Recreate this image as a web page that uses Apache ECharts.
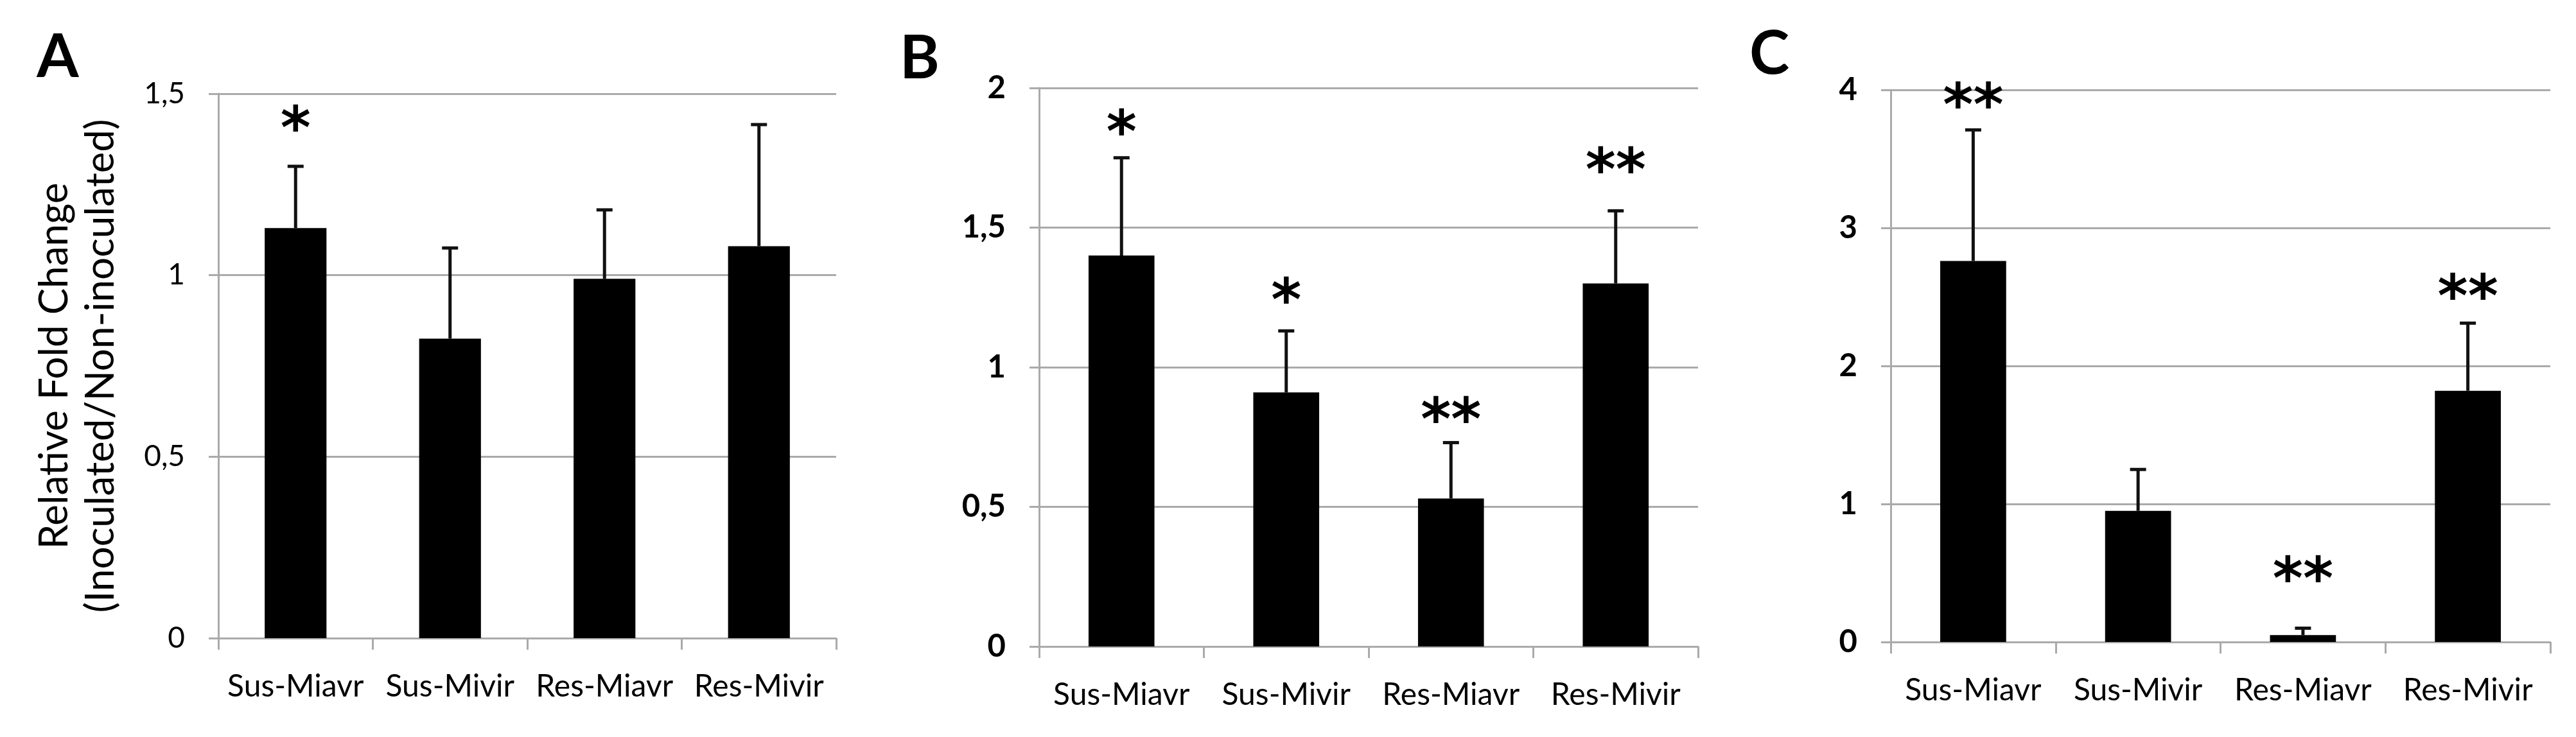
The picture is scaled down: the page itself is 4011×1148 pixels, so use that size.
<!DOCTYPE html>
<html>
<head>
<meta charset="utf-8">
<script src="https://cdn.jsdelivr.net/npm/echarts@6/dist/echarts.min.js"></script>
<style>
html,body{margin:0;padding:0;background:#fff;}
#chart{width:4011px;height:1148px;}
</style>
</head>
<body>
<div id="chart"></div>
<script>
// ---- data ----
const categories = ['Sus-Miavr', 'Sus-Mivir', 'Res-Miavr', 'Res-Mivir'];
const panelLabels = ['A', 'B', 'C'];

const valuesA = [1.13, 0.825, 0.99, 1.08];
const errorTopA = [1.30, 1.075, 1.18, 1.415];
const signifA = ['*', '', '', ''];
const signifPosA = [1.431, null, null, null];

const valuesB = [1.40, 0.91, 0.53, 1.30];
const errorTopB = [1.75, 1.13, 0.73, 1.56];
const signifB = ['*', '*', '**', '**'];
const signifPosB = [1.876, 1.275, 0.847, 1.742];

const valuesC = [2.76, 0.95, 0.05, 1.82];
const errorTopC = [3.71, 1.25, 0.10, 2.31];
const signifC = ['**', '', '**', '**'];
const signifPosC = [3.958, null, 0.526, 2.572];

const yTicksA = ['0', '0,5', '1', '1,5'];
const yTicksB = ['0', '0,5', '1', '1,5', '2'];
const yTicksC = ['0', '1', '2', '3', '4'];

const yTitle = 'Relative Fold Change\n(Inoculated/Non-inoculated)';

// ---- styles ----
const GRAY = '#aaaaaa';
const FONT = 'Lato';
const panels = [
  {values: valuesA, err: errorTopA, sig: signifA, sigPos: signifPosA, ticks: yTicksA, max: 1.5, interval: 0.5,
   grid: {left: 340, top: 146, width: 962, height: 848}, tickBold: 'normal', tickSize: 46, letter: [90, 90]},
  {values: valuesB, err: errorTopB, sig: signifB, sigPos: signifPosB, ticks: yTicksB, max: 2, interval: 0.5,
   grid: {left: 1618, top: 137, width: 1026, height: 870}, tickBold: 'bold', tickSize: 49, letter: [1432, 92]},
  {values: valuesC, err: errorTopC, sig: signifC, sigPos: signifPosC, ticks: yTicksC, max: 4, interval: 1,
   grid: {left: 2944, top: 140, width: 1027, height: 860}, tickBold: 'bold', tickSize: 49, letter: [2755, 85]}
];

const grids = [], xAxes = [], yAxes = [], series = [], graphics = [];
panels.forEach((p, k) => {
  grids.push(Object.assign({containLabel: false}, p.grid));
  xAxes.push({
    type: 'category', gridIndex: k, data: categories, boundaryGap: true,
    axisLine: {show: true, lineStyle: {color: GRAY, width: 3}},
    axisTick: {show: true, interval: 0, length: 18, lineStyle: {color: GRAY, width: 3}},
    axisLabel: {interval: 0, margin: 52, fontSize: 48, fontFamily: FONT, color: '#000'}
  });
  const ticks = p.ticks;
  const yAxis = {
    type: 'value', gridIndex: k, min: 0, max: p.max, interval: p.interval,
    axisLine: {show: true, lineStyle: {color: GRAY, width: 3}},
    axisTick: {show: true, length: 15, lineStyle: {color: GRAY, width: 3}},
    splitLine: {show: true, lineStyle: {color: GRAY, width: 3}},
    axisLabel: {margin: 52, fontSize: p.tickSize, fontFamily: FONT, fontWeight: p.tickBold, color: '#000',
      formatter: (v, i) => ticks[i]}
  };
  if (k === 0) {
    Object.assign(yAxis, {
      name: yTitle, nameLocation: 'middle', nameRotate: 90, nameGap: 147,
      nameTextStyle: {fontSize: 62, lineHeight: 72, fontFamily: FONT, color: '#000', align: 'center'}
    });
  }
  yAxes.push(yAxis);

  series.push({
    type: 'bar', xAxisIndex: k, yAxisIndex: k, data: p.values, barWidth: '40%',
    itemStyle: {color: '#000'}, silent: true
  });
  const errData = p.values.map((v, i) => [i, v, p.err[i]]);
  series.push({
    type: 'custom', xAxisIndex: k, yAxisIndex: k, data: errData, z: 5, silent: true,
    renderItem: (params, api) => {
      const x = api.value(0);
      const a = api.coord([x, api.value(1)]);
      const b = api.coord([x, api.value(2)]);
      const st = {stroke: '#111', lineWidth: 5};
      return {type: 'group', children: [
        {type: 'line', shape: {x1: a[0], y1: a[1], x2: b[0], y2: b[1]}, style: st},
        {type: 'line', shape: {x1: b[0] - 12.5, y1: b[1], x2: b[0] + 12.5, y2: b[1]}, style: st}
      ]};
    }
  });
  const sigData = [];
  p.sig.forEach((s, i) => { if (s) sigData.push([i, p.sigPos[i], s]); });
  series.push({
    type: 'custom', xAxisIndex: k, yAxisIndex: k, data: sigData, z: 6, silent: true,
    renderItem: (params, api) => {
      const pt = api.coord([api.value(0), api.value(1)]);
      const txt = sigData[params.dataIndex][2];
      return {type: 'text', x: pt[0], y: pt[1] + 22,
        style: {text: txt, fontSize: 90, fontFamily: 'DejaVu Sans', fontWeight: 'bold',
          fill: '#000', align: 'center', verticalAlign: 'middle'}};
    }
  });
  graphics.push({
    type: 'text', x: p.letter[0], y: p.letter[1],
    style: {text: panelLabels[k], fontSize: 94, fontFamily: FONT, fontWeight: 'bold', fill: '#000',
      align: 'center', verticalAlign: 'middle'}
  });
});

const chart = echarts.init(document.getElementById('chart'), null, {renderer: 'canvas'});
chart.setOption({
  backgroundColor: '#ffffff',
  animation: false,
  grid: grids, xAxis: xAxes, yAxis: yAxes, series: series, graphic: graphics
});
</script>
</body>
</html>
